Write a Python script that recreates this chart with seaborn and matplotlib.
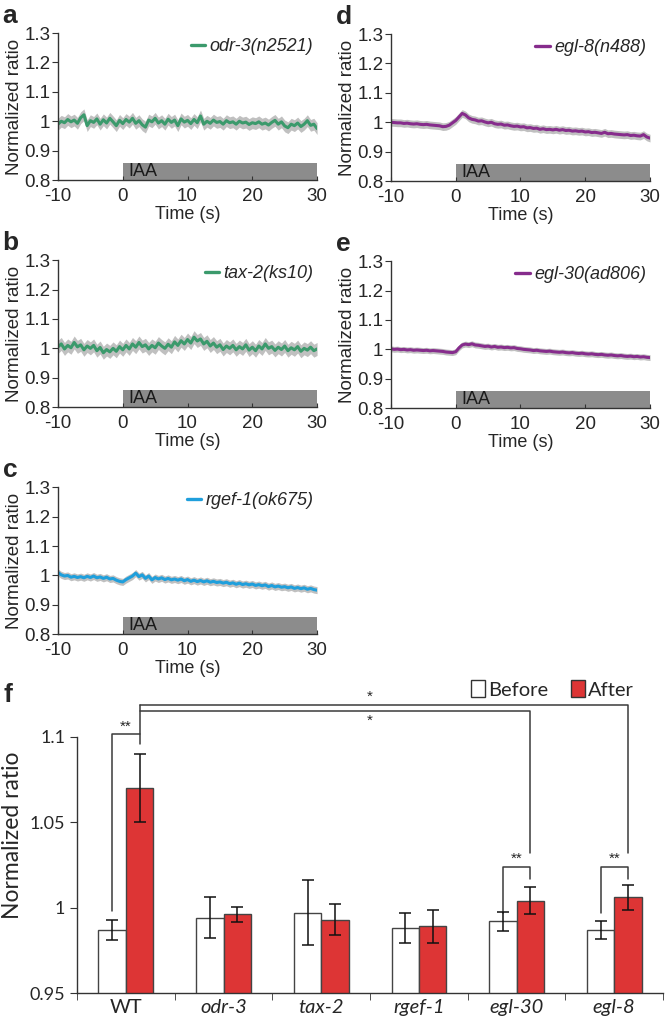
import numpy as np
import pandas as pd
import seaborn as sns
import matplotlib.pyplot as plt
from matplotlib.lines import Line2D
from matplotlib.patches import Patch
from matplotlib.ticker import FuncFormatter

# ---- time traces (sampled every 0.5 s from -10 to 30 s) ----
time = np.arange(-10, 30.25, 0.5)

odr3 = [0.990, 1.000, 0.995, 1.006, 0.998, 1.004, 0.993, 1.012, 1.022, 0.985,
        1.002, 0.996, 1.008, 0.990, 1.005, 0.994, 1.010, 0.998, 0.985, 1.003,
        0.992, 1.006, 0.997, 1.010, 0.993, 1.002, 0.988, 0.980, 1.004, 0.998,
        1.010, 0.994, 1.002, 0.990, 1.007, 0.996, 1.004, 0.985, 1.008, 0.997,
        1.003, 0.992, 1.006, 0.995, 1.018, 0.990, 1.000, 0.993, 1.004, 0.996,
        0.999, 0.990, 1.002, 0.995, 0.998, 0.990, 1.000, 0.994, 0.997, 0.989,
        0.995, 0.992, 0.998, 0.990, 0.994, 0.987, 0.996, 1.003, 0.990, 0.998,
        0.984, 0.978, 0.990, 0.985, 0.994, 0.982, 0.990, 1.002, 0.986, 0.990,
        0.975]
tax2 = [1.005, 1.015, 0.998, 1.010, 1.002, 1.020, 1.005, 1.012, 0.995, 1.008,
        1.000, 1.010, 0.992, 1.003, 0.985, 0.996, 0.988, 1.000, 0.990, 1.006,
        0.995, 1.010, 0.998, 1.015, 1.004, 1.020, 1.006, 1.012, 0.998, 1.010,
        1.002, 1.018, 1.008, 1.000, 1.014, 1.004, 1.022, 1.010, 1.026, 1.015,
        1.030, 1.018, 1.038, 1.025, 1.032, 1.015, 1.024, 1.008, 1.018, 1.004,
        1.012, 0.996, 1.008, 1.000, 1.010, 0.995, 1.006, 0.998, 1.012, 0.994,
        1.004, 0.992, 1.008, 0.998, 1.015, 1.000, 1.006, 0.993, 1.004, 0.996,
        1.008, 0.992, 1.002, 0.995, 1.006, 0.990, 1.000, 0.994, 1.004, 0.992,
        0.998]
rgef1 = [1.010, 1.002, 0.998, 1.000, 0.994, 0.997, 0.993, 0.996, 0.992, 0.997,
         0.993, 0.998, 0.992, 0.995, 0.990, 0.994, 0.988, 0.990, 0.984, 0.980,
         0.978, 0.986, 0.992, 0.998, 1.008, 0.996, 1.002, 0.990, 0.998, 0.985,
         0.993, 0.988, 0.992, 0.986, 0.990, 0.985, 0.988, 0.984, 0.988, 0.982,
         0.986, 0.980, 0.984, 0.979, 0.983, 0.978, 0.982, 0.977, 0.980, 0.976,
         0.978, 0.974, 0.977, 0.972, 0.975, 0.970, 0.974, 0.969, 0.972, 0.968,
         0.971, 0.966, 0.969, 0.965, 0.968, 0.962, 0.966, 0.961, 0.964, 0.960,
         0.962, 0.958, 0.961, 0.956, 0.959, 0.955, 0.958, 0.953, 0.956, 0.952,
         0.950]
egl8 = [1.000, 0.999, 0.998, 0.998, 0.996, 0.997, 0.995, 0.994, 0.995, 0.993,
        0.992, 0.993, 0.991, 0.990, 0.989, 0.988, 0.985, 0.986, 0.990, 0.998,
        1.006, 1.018, 1.030, 1.025, 1.015, 1.010, 1.008, 1.004, 1.005, 1.001,
        0.998, 1.000, 0.995, 0.993, 0.994, 0.990, 0.991, 0.988, 0.986, 0.987,
        0.984, 0.985, 0.981, 0.982, 0.979, 0.980, 0.976, 0.978, 0.975, 0.976,
        0.974, 0.976, 0.973, 0.975, 0.972, 0.973, 0.970, 0.971, 0.969, 0.970,
        0.967, 0.968, 0.965, 0.966, 0.964, 0.962, 0.966, 0.961, 0.962, 0.960,
        0.959, 0.958, 0.957, 0.958, 0.955, 0.956, 0.954, 0.953, 0.958, 0.950,
        0.946]
egl30 = [1.002, 1.000, 1.001, 0.999, 1.000, 0.998, 0.999, 0.997, 0.998, 0.997,
         0.996, 0.997, 0.995, 0.996, 0.995, 0.994, 0.993, 0.991, 0.990, 0.989,
         0.992, 1.005, 1.015, 1.018, 1.016, 1.019, 1.015, 1.014, 1.012, 1.010,
         1.011, 1.008, 1.010, 1.007, 1.008, 1.006, 1.007, 1.005, 1.006, 1.003,
         1.002, 1.000, 0.999, 0.998, 0.996, 0.997, 0.995, 0.994, 0.993, 0.994,
         0.992, 0.991, 0.990, 0.991, 0.989, 0.988, 0.989, 0.987, 0.986, 0.987,
         0.985, 0.984, 0.985, 0.983, 0.982, 0.983, 0.981, 0.980, 0.981, 0.979,
         0.978, 0.979, 0.977, 0.976, 0.977, 0.975, 0.976, 0.974, 0.975, 0.973,
         0.972]

# half-width of the grey error band for each trace
band_odr3 = 0.020
band_tax2 = 0.022
band_rgef1 = 0.012
band_egl8 = 0.013
band_egl30 = 0.010

# ---- panel f: before / after bars ----
strains = ["WT", "odr-3", "tax-2", "rgef-1", "egl-30", "egl-8"]
before = [0.987, 0.994, 0.997, 0.988, 0.992, 0.987]
after = [1.070, 0.996, 0.993, 0.989, 1.004, 1.006]
before_err = [0.006, 0.012, 0.019, 0.0087, 0.0057, 0.0054]
after_err = [0.020, 0.0044, 0.0092, 0.0098, 0.0078, 0.0074]

GREEN = "#3b9a6c"
PURPLE = "#862c8c"
BLUE = "#1f9fdc"
RED = "#dd3535"
BAND = "#c0c0c0"
AXC = "#333333"

sns.set_style("ticks")
plt.rcParams["font.family"] = ["Liberation Sans", "DejaVu Sans"]
plt.rcParams["axes.edgecolor"] = AXC
plt.rcParams["axes.linewidth"] = 1.0
plt.rcParams["axes.unicode_minus"] = False

fig = plt.figure(figsize=(6.66, 10.23), dpi=100)

panels = [
    ("a", odr3, band_odr3, GREEN, "odr-3(n2521)", [0.0871, 0.824]),
    ("b", tax2, band_tax2, GREEN, "tax-2(ks10)", [0.0871, 0.602]),
    ("c", rgef1, band_rgef1, BLUE, "rgef-1(ok675)", [0.0871, 0.380]),
    ("d", egl8, band_egl8, PURPLE, "egl-8(n488)", [0.587, 0.823]),
    ("e", egl30, band_egl30, PURPLE, "egl-30(ad806)", [0.587, 0.601]),
]

for letter, vals, band, col, name, (x0, y0) in panels:
    ax = fig.add_axes([x0, y0, 0.389, 0.1437])
    vals = np.array(vals)
    ax.fill_between(time, vals - band, vals + band, color=BAND, lw=0, zorder=1)
    sns.lineplot(x=time, y=vals, ax=ax, color=col, lw=2.2, zorder=2)
    # IAA stimulus bar
    ax.fill_between([0, 30], 0.8, 0.858, color="#8c8c8c", lw=0, zorder=0.5)
    ax.text(0.8, 0.801, "IAA", fontsize=13, color="#1a1a1a", va="bottom", ha="left")
    ax.set_xlim(-10, 30)
    ax.set_ylim(0.8, 1.3)
    ax.set_xticks([-10, 0, 10, 20, 30])
    ax.set_yticks([0.8, 0.9, 1.0, 1.1, 1.2, 1.3])
    ax.yaxis.set_major_formatter(FuncFormatter(lambda v, p: "%g" % round(v, 2)))
    ax.tick_params(axis="x", direction="in", length=3, labelsize=13.5, pad=5.5, color=AXC)
    ax.tick_params(axis="y", direction="out", length=4, labelsize=13.5, pad=1.5, color=AXC)
    ax.set_xlabel("Time (s)", fontsize=13, labelpad=1)
    ax.set_ylabel("Normalized ratio", fontsize=13.5, labelpad=1)
    sns.despine(ax=ax)
    h = Line2D([], [], color=col, lw=2.4)
    ax.legend([h], [name], loc="upper right", frameon=False, handlelength=0.8,
              handletextpad=0.25, borderaxespad=0.0, borderpad=0.2,
              bbox_to_anchor=(1.0, 0.99),
              prop={"style": "italic", "size": 13})
    fig.text(x0 - 0.083, y0 + 0.1437 + 0.0165, letter, fontsize=19,
             fontweight="bold", va="center", ha="left")

# ---- panel f ----
axf = fig.add_axes([0.1156, 0.0293, 0.880, 0.309])
axf.patch.set_alpha(0)
df = pd.DataFrame({
    "strain": strains * 2,
    "phase": ["Before"] * len(strains) + ["After"] * len(strains),
    "ratio": before + after,
})
sns.barplot(data=df, x="strain", y="ratio", hue="phase", order=strains,
            hue_order=["Before", "After"], saturation=1,
            palette={"Before": "white", "After": RED}, width=0.56, gap=0,
            edgecolor="#444444", linewidth=1.0, errorbar=None, legend=False, ax=axf)

centers = {}
for cont, phase, vals, errs in zip(axf.containers, ["Before", "After"],
                                   [before, after], [before_err, after_err]):
    xs = [b.get_x() + b.get_width() / 2 for b in cont]
    centers[phase] = xs
    axf.errorbar(xs, vals, yerr=errs, fmt="none", ecolor="#111111",
                 elinewidth=1.1, capsize=4, capthick=1.1, zorder=5)

axf.set_ylim(0.95, 1.135)
axf.set_xlim(-0.5, len(strains) - 0.5)
axf.set_yticks([0.95, 1.0, 1.05, 1.1])
axf.yaxis.set_major_formatter(FuncFormatter(lambda v, p: "%g" % round(v, 2)))
axf.set_xticks(range(len(strains)))
axf.set_xticks(np.arange(-0.5, len(strains), 1.0), minor=True)
axf.set_xticklabels(strains)
for lab in axf.get_xticklabels()[1:]:
    lab.set_style("italic")
axf.tick_params(axis="x", which="major", length=0, labelsize=14.5, pad=4)
axf.tick_params(axis="x", which="minor", length=5, direction="out", color=AXC)
axf.tick_params(axis="y", length=5, labelsize=13, color=AXC)
for lab in axf.get_xticklabels() + axf.get_yticklabels():
    lab.set_family(["Lato", "DejaVu Sans"])
axf.set_xlabel("")
axf.set_ylabel("Normalized ratio", fontsize=16.5, labelpad=5, family=["Lato", "DejaVu Sans"])
sns.despine(ax=axf)
axf.spines["left"].set_bounds(0.95, 1.1)

LC = "#3a3a3a"
# WT before vs after
xb, xa = centers["Before"][0], centers["After"][0]
axf.plot([xb, xb, xa], [0.998, 1.1015, 1.1015], color=LC, lw=1.1, clip_on=False)
axf.plot([xa, xa], [1.096, 1.1185], color=LC, lw=1.1, clip_on=False)
axf.text((xb + xa) / 2, 1.102, "**", ha="center", va="bottom", fontsize=11)
# long comparisons WT vs egl-8 / egl-30
for idx, ytop in [(5, 1.1185), (4, 1.115)]:
    xr = centers["After"][idx]
    axf.plot([xa, xr, xr], [ytop, ytop, 1.032], color=LC, lw=1.1, clip_on=False)
axf.text(2.5, 1.1195, "*", ha="center", va="bottom", fontsize=11)
axf.text(2.5, 1.1135, "*", ha="center", va="top", fontsize=11)
# egl-30 and egl-8 before vs after
for idx in [4, 5]:
    xb2, xa2 = centers["Before"][idx], centers["After"][idx]
    axf.plot([xb2, xb2, xa2, xa2], [0.997, 1.0235, 1.0235, 1.0165], color=LC, lw=1.1)
    axf.text((xb2 + xa2) / 2, 1.0245, "**", ha="center", va="bottom", fontsize=11)

handles = [Patch(facecolor="white", edgecolor="#333333", lw=1.0),
           Patch(facecolor=RED, edgecolor="#333333", lw=1.0)]
axf.legend(handles, ["Before", "After"], loc="center right", bbox_to_anchor=(0.95, 0.96),
           ncol=2, frameon=False, handlelength=0.7, handleheight=0.9,
           handletextpad=0.15, columnspacing=1.1, borderaxespad=0, borderpad=0,
           prop={"family": ["Lato", "DejaVu Sans"], "size": 14.5})
fig.text(0.005, 1 - 695 / 1023, "f", fontsize=19, fontweight="bold", va="center", ha="left")

fig.savefig("out.png", dpi=100)
